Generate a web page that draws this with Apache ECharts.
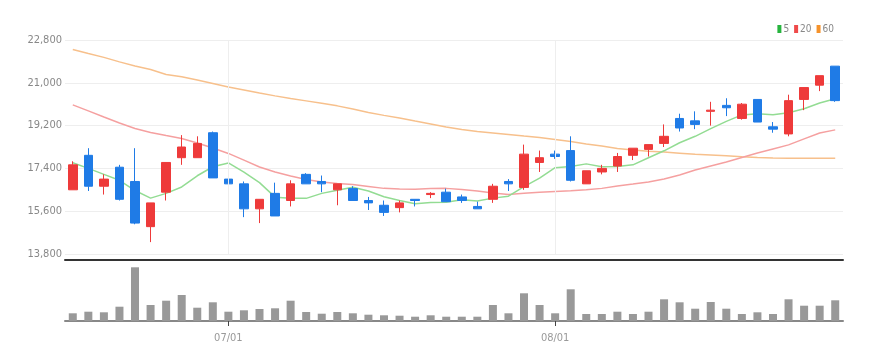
<!DOCTYPE html>
<html>
<head>
<meta charset="utf-8">
<script src="https://cdn.jsdelivr.net/npm/echarts@6/dist/echarts.min.js"></script>
<style>
html,body{margin:0;padding:0;background:#fff;}
#chart{width:883px;height:361px;}
</style>
</head>
<body>
<div id="chart"></div>
<script>
const dates = ['06/17','06/20','06/21','06/22','06/23','06/24','06/27','06/28','06/29','06/30',
  '07/01','07/04','07/05','07/06','07/07','07/08','07/11','07/12','07/13','07/14','07/15',
  '07/18','07/19','07/20','07/21','07/22','07/25','07/26','07/27','07/28','07/29',
  '08/01','08/02','08/03','08/04','08/05','08/08','08/09','08/10','08/11','08/12',
  '08/16','08/17','08/18','08/19','08/22','08/23','08/24','08/25','08/26'];
const openP  = [16500,17950,16650,17450,16850,14950,16400,17850,17850,18900,16950,16750,15700,16350,16050,17150,16850,16500,16550,16050,15850,15750,16100,16300,16400,16200,15800,16100,16850,16600,17650,18000,18150,16750,17250,17500,17950,18200,18450,19500,19400,19800,20050,19500,20300,19150,18850,20300,20900,21700];
const closeP = [17550,16650,16950,16100,15100,15950,17650,18300,18450,17000,16750,15700,16100,15400,16750,16750,16750,16750,16050,15950,15550,15950,16050,16350,16000,16050,15700,16650,16750,18000,17850,17900,16900,17300,17400,17900,18250,18400,18750,19100,19250,19850,19950,20100,19350,19050,20250,20800,21300,20250];
const lowP   = [16500,16450,16300,16050,15050,14300,16050,17550,17850,17000,16600,15350,15100,15400,15800,16750,16400,15850,16050,15650,15400,15550,15800,16150,16000,15950,15700,15950,16450,16500,17250,17800,16850,16750,17150,17250,17750,17900,18300,18950,19050,19200,19600,19450,19350,18900,18750,19850,20650,20200];
const highP  = [17700,18250,17150,17550,18250,15950,17650,18800,18750,18950,17600,16850,16100,16800,16900,17200,17100,16750,16650,16200,16050,16050,16100,16400,16550,16300,16000,16750,16950,18400,18150,18150,18750,17300,17550,18050,18250,18400,19250,19700,19800,20200,20350,20150,20300,19350,20500,20800,21300,21700];
const ma5  = [17640,17400,17150,16900,16470,16150,16350,16620,17090,17470,17630,17240,16800,16190,16140,16140,16350,16480,16610,16450,16210,16050,15910,15970,15980,16080,16030,16150,16230,16630,16990,17430,17480,17590,17470,17480,17550,17850,18140,18480,18750,19070,19380,19650,19700,19660,19740,19910,20150,20330];
const ma20 = [20070,19820,19560,19310,19080,18910,18780,18660,18470,18260,18030,17750,17460,17250,17080,16930,16830,16770,16720,16640,16560,16530,16520,16550,16560,16510,16450,16370,16300,16350,16400,16430,16460,16500,16560,16660,16740,16830,16950,17120,17330,17500,17670,17860,18050,18220,18390,18640,18890,19020];
const ma60 = [22400,22230,22070,21880,21710,21560,21350,21250,21120,20970,20820,20700,20570,20450,20340,20240,20140,20030,19900,19750,19630,19520,19390,19270,19140,19040,18950,18890,18830,18760,18700,18620,18530,18430,18340,18240,18170,18120,18090,18040,17990,17960,17930,17890,17860,17840,17830,17830,17830,17830];
const volume = [77000,93000,87000,143000,537000,160000,203000,260000,133000,187000,93000,107000,120000,127000,203000,90000,73000,90000,77000,63000,57000,53000,43000,57000,43000,43000,43000,160000,77000,277000,160000,77000,317000,70000,70000,93000,70000,93000,217000,187000,123000,190000,123000,70000,87000,70000,217000,153000,153000,207000];
const priceTicks = {min:13800, max:22800, step:1800};
const monthLabels = ['07/01','08/01'];

const ohlc = dates.map((d,i)=>[openP[i], closeP[i], lowP[i], highP[i]]);
const FONT = "'Liberation Sans Narrow','Arial Narrow','DejaVu Sans Condensed',sans-serif";
const showMonth = (idx, val) => monthLabels.indexOf(val) >= 0;

const chart = echarts.init(document.getElementById('chart'), null, {renderer:'canvas'});
chart.setOption({
  animation:false,
  backgroundColor:'#fff',
  legend:{
    right:44, top:19, icon:'rect', itemWidth:4, itemHeight:8, itemGap:5,
    textStyle:{color:'#888', fontSize:10, fontFamily:FONT, padding:[0,0,0,-3]},
    data:['5','20','60']
  },
  grid:[
    {left:65, right:40, top:40, height:214},
    {left:65, right:40, top:262, height:59}
  ],
  xAxis:[
    {type:'category', data:dates, gridIndex:0, boundaryGap:true, offset:6,
     axisLine:{lineStyle:{color:'#333', width:2}}, axisTick:{show:false}, axisLabel:{show:false},
     splitLine:{show:false}},
    {type:'category', data:dates, gridIndex:1, boundaryGap:true,
     axisLine:{lineStyle:{color:'#888', width:2}},
     axisTick:{show:true, alignWithLabel:true, interval:showMonth, length:5, lineStyle:{color:'#444'}},
     axisLabel:{interval:showMonth, color:'#999', fontSize:11, fontFamily:FONT, margin:12},
     splitLine:{show:false}}
  ],
  yAxis:[
    {type:'value', gridIndex:0, min:priceTicks.min, max:priceTicks.max, interval:priceTicks.step,
     axisLine:{show:false}, axisTick:{show:false},
     axisLabel:{color:'#888', fontSize:11, fontFamily:FONT, margin:3,
       formatter:v=>v.toString().replace(/\B(?=(\d{3})+(?!\d))/g, ',')},
     splitLine:{lineStyle:{color:'#eeeeee', width:1}}},
    {type:'value', gridIndex:1, min:0, max:590000,
     axisLine:{show:false}, axisTick:{show:false}, axisLabel:{show:false}, splitLine:{show:false}}
  ],
  series:[
    {name:'60', type:'line', xAxisIndex:0, yAxisIndex:0, data:ma60, z:1, symbol:'none', smooth:false,
     itemStyle:{color:'#f5922b'}, lineStyle:{color:'#f7c08c', width:1.5},
     markLine:{silent:true, symbol:'none', label:{show:false},
       lineStyle:{color:'#eeeeee', width:1, type:'solid'},
       data:monthLabels.map(m=>({xAxis:m}))}},
    {name:'20', type:'line', xAxisIndex:0, yAxisIndex:0, data:ma20, z:1, symbol:'none',
     itemStyle:{color:'#ef4a4a'}, lineStyle:{color:'#f5a0a0', width:1.5}},
    {name:'5', type:'line', xAxisIndex:0, yAxisIndex:0, data:ma5, z:1, symbol:'none',
     itemStyle:{color:'#27b43e'}, lineStyle:{color:'#93dc93', width:1.5}},
    {name:'price', type:'candlestick', xAxisIndex:0, yAxisIndex:0, data:ohlc, z:3, barWidth:9,
     itemStyle:{color:'#ee3a3a', color0:'#1f7be6', borderColor:'#ee3a3a', borderColor0:'#1f7be6', borderWidth:1}},
    {name:'vol', type:'bar', xAxisIndex:1, yAxisIndex:1, data:volume, barWidth:8,
     itemStyle:{color:'#999999'}}
  ]
});
</script>
</body>
</html>
